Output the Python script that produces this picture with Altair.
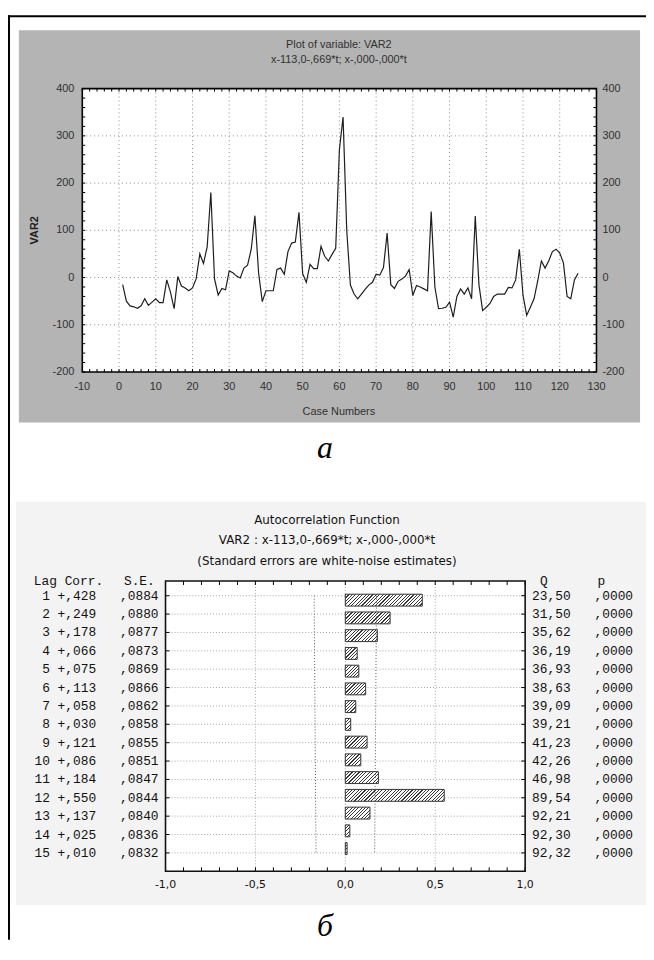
import altair as alt
import pandas as pd

# ---------------- data ----------------
case_numbers = list(range(1, 126))
var2 = [
    -15, -50, -60, -62, -65, -60, -45, -59, -52, -45,
    -53, -53, -5, -31, -66, 2, -18, -22, -28, -22,
    -3, 50, 30, 65, 180, -3, -37, -23, -26, 14,
    10, 3, -1, 20, 26, 60, 131, 10, -51, -28,
    -28, -28, 17, 20, 7, 55, 73, 75, 138, 8,
    -10, 28, 19, 19, 66, 45, 35, 49, 62, 270,
    340, 100, -16, -35, -45, -35, -25, -16, -10, 7,
    5, 21, 94, -15, -23, -8, -3, 3, 17, -38,
    -17, -20, -24, -28, 140, -20, -66, -65, -63, -52,
    -84, -40, -24, -35, -22, -45, 130, -15, -70, -63,
    -55, -40, -35, -35, -35, -21, -22, -5, 60, -38,
    -80, -63, -45, -7, 35, 20, 35, 55, 60, 52,
    31, -40, -45, -5, 9]

top_x_ticks = [-10, 0, 10, 20, 30, 40, 50, 60, 70, 80, 90, 100, 110, 120, 130]
top_y_ticks = [-200, -100, 0, 100, 200, 300, 400]
top_x_minor = list(range(-10, 131, 2))
top_y_minor = list(range(-200, 401, 20))

lags = list(range(1, 16))
corr = [0.428, 0.249, 0.178, 0.066, 0.075, 0.113, 0.058, 0.030, 0.121, 0.086,
        0.184, 0.550, 0.137, 0.025, 0.010]
std_err = [0.0884, 0.0880, 0.0877, 0.0873, 0.0869, 0.0866, 0.0862, 0.0858, 0.0855,
           0.0851, 0.0847, 0.0844, 0.0840, 0.0836, 0.0832]
q_stat = [23.50, 31.50, 35.62, 36.19, 36.93, 38.63, 39.09, 39.21, 41.23, 42.26,
          46.98, 89.54, 92.21, 92.30, 92.32]
p_val = [0.0] * 15
acf_ticks = [-1.0, -0.5, 0.0, 0.5, 1.0]
acf_labels = ["-1,0", "-0,5", "0,0", "0,5", "1,0"]
acf_minor = [round(-1 + 0.1 * i, 1) for i in range(21)]

# ---------------- layout (pixels inside the chart) ----------------
W, H = 644, 936
TOP_XR, TOP_YR = [75, 594], [363, 77]
ACF_XR, ACF_YR = [159, 522], [574, 867]

sx_top = alt.Scale(domain=[-10, 130], range=TOP_XR, nice=False, zero=False)
sy_top = alt.Scale(domain=[-200, 400], range=TOP_YR, nice=False, zero=False)
sx_acf = alt.Scale(domain=[-1, 1], range=ACF_XR, nice=False, zero=False)
sy_acf = alt.Scale(domain=[0.2, 16], range=ACF_YR, nice=False, zero=False)

SANS = "Liberation Sans"
SANS2 = "DejaVu Sans"
MONO = "Liberation Mono"
SERIF = "Liberation Serif"


def one():
    return pd.DataFrame({"k": [0]})


def text_at(txt, x, y, **kw):
    return alt.Chart(one()).mark_text(text=txt, **kw).encode(x=alt.value(x), y=alt.value(y))


def vrules(vals, sx, y0, y1, **kw):
    return alt.Chart(pd.DataFrame({"v": vals})).mark_rule(**kw).encode(
        x=alt.X("v:Q", scale=sx, axis=None), y=alt.value(y0), y2=alt.value(y1))


def hrules(vals, sy, x0, x1, **kw):
    return alt.Chart(pd.DataFrame({"v": vals})).mark_rule(**kw).encode(
        y=alt.Y("v:Q", scale=sy, axis=None), x=alt.value(x0), x2=alt.value(x1))


def frame(sx, sy, xd, yd, **kw):
    df = pd.DataFrame({"x0": [xd[0]], "x1": [xd[1]], "y0": [yd[0]], "y1": [yd[1]]})
    return alt.Chart(df).mark_rect(**kw).encode(
        x=alt.X("x0:Q", scale=sx, axis=None), x2="x1:Q",
        y=alt.Y("y0:Q", scale=sy, axis=None), y2="y1:Q")


layers = []

# panels and outer frame
layers.append(alt.Chart(one()).mark_rect(fill="#b4b4b4").encode(
    x=alt.value(11), x2=alt.value(638), y=alt.value(18), y2=alt.value(414)))
layers.append(alt.Chart(one()).mark_rect(fill="#f3f3f3").encode(
    x=alt.value(8), x2=alt.value(W), y=alt.value(494), y2=alt.value(901)))
layers.append(alt.Chart(one()).mark_rule(color="black", strokeWidth=2).encode(
    x=alt.value(1), y=alt.value(3), y2=alt.value(H)))
layers.append(alt.Chart(one()).mark_rule(color="black", strokeWidth=2).encode(
    x=alt.value(0), x2=alt.value(W), y=alt.value(4)))

# ---------------- top chart ----------------
layers.append(frame(sx_top, sy_top, [-10, 130], [-200, 400], fill="white"))
layers.append(vrules(top_x_ticks[1:-1], sx_top, TOP_YR[1], TOP_YR[0],
                     color="#8c8c8c", strokeDash=[1, 3], strokeWidth=1))
layers.append(hrules(top_y_ticks[1:-1], sy_top, TOP_XR[0], TOP_XR[1],
                     color="#8c8c8c", strokeDash=[1, 3], strokeWidth=1))
layers.append(vrules(top_x_minor, sx_top, TOP_YR[1], TOP_YR[1] + 3, color="black", strokeWidth=1))
layers.append(vrules(top_x_minor, sx_top, TOP_YR[0] - 3, TOP_YR[0], color="black", strokeWidth=1))
layers.append(hrules(top_y_minor, sy_top, TOP_XR[0], TOP_XR[0] + 3, color="black", strokeWidth=1))
layers.append(hrules(top_y_minor, sy_top, TOP_XR[1] - 3, TOP_XR[1], color="black", strokeWidth=1))

df_top = pd.DataFrame({"case": case_numbers, "var2": var2})
layers.append(alt.Chart(df_top).mark_line(color="#1e1e1e", strokeWidth=1.2).encode(
    x=alt.X("case:Q", scale=sx_top, axis=None),
    y=alt.Y("var2:Q", scale=sy_top, axis=None)))
layers.append(frame(sx_top, sy_top, [-10, 130], [-200, 400],
                    fill=None, filled=False, stroke="black", strokeWidth=1.6))

df_yt = pd.DataFrame({"v": top_y_ticks, "lab": [str(v) for v in top_y_ticks]})
for xpos, al in [(67, "right"), (600, "left")]:
    layers.append(alt.Chart(df_yt).mark_text(
        align=al, baseline="middle", font=SANS, fontSize=11, color="#303030").encode(
        x=alt.value(xpos), y=alt.Y("v:Q", scale=sy_top, axis=None), text="lab:N"))
df_xt = pd.DataFrame({"v": top_x_ticks, "lab": [str(v) for v in top_x_ticks]})
layers.append(alt.Chart(df_xt).mark_text(
    align="center", baseline="middle", font=SANS, fontSize=11, color="#303030").encode(
    x=alt.X("v:Q", scale=sx_top, axis=None), y=alt.value(378), text="lab:N"))

layers.append(text_at("Plot of variable: VAR2", 334, 33, font=SANS, fontSize=11,
                      color="#303030", align="center", baseline="middle"))
layers.append(text_at("x-113,0-,669*t; x-,000-,000*t", 334, 48, font=SANS, fontSize=11,
                      color="#303030", align="center", baseline="middle"))
layers.append(text_at("Case Numbers", 334, 403, font=SANS, fontSize=11,
                      color="#303030", align="center", baseline="middle"))
layers.append(text_at("VAR2", 27, 220, font=SANS, fontSize=11, fontWeight="bold",
                      color="#202020", align="center", baseline="middle", angle=270))
layers.append(text_at("a", 320, 450, font=SERIF, fontSize=32, fontStyle="italic",
                      color="black", align="center", baseline="alphabetic"))

# ---------------- autocorrelation chart ----------------
layers.append(frame(sx_acf, sy_acf, [-1, 1], [0.2, 16], fill="white"))
layers.append(vrules([-0.5, 0.0, 0.5], sx_acf, ACF_YR[0], ACF_YR[1],
                     color="#a8a8a8", strokeDash=[1, 2], strokeWidth=1))
layers.append(hrules(lags, sy_acf, ACF_XR[0], ACF_XR[1],
                     color="#a8a8a8", strokeDash=[1, 2], strokeWidth=1))
layers.append(vrules(acf_minor, sx_acf, ACF_YR[0], ACF_YR[0] + 4, color="black", strokeWidth=1))
layers.append(vrules(acf_minor, sx_acf, ACF_YR[1] - 4, ACF_YR[1], color="black", strokeWidth=1))
layers.append(hrules(lags, sy_acf, ACF_XR[0], ACF_XR[0] + 4, color="black", strokeWidth=1))
layers.append(hrules(lags, sy_acf, ACF_XR[1] - 4, ACF_XR[1], color="black", strokeWidth=1))

df_acf = pd.DataFrame({"lag": lags, "corr": corr, "se": std_err, "zero": [0.0] * 15})

PX_PER_UNIT = (ACF_XR[1] - ACF_XR[0]) / 2.0
BAR_H = 12


def hatch(w_px, h_px, period=3.4, dark_frac=0.34):
    w_px = max(w_px, 0.5)
    L = w_px + h_px
    r = h_px / w_px
    s = L / (w_px * (1 + r * r))
    n = max(1, int(round(L / period)))
    stops = []
    for k in range(n):
        a, b, c = k / n, (k + dark_frac) / n, (k + 1) / n
        stops += [{"offset": a, "color": "#3a3a3a"}, {"offset": b, "color": "#3a3a3a"},
                  {"offset": b, "color": "#ffffff"}, {"offset": c, "color": "#ffffff"}]
    return {"gradient": "linear", "x1": 0, "y1": 0, "x2": s, "y2": s * r, "stops": stops}


for lag, c in zip(lags, corr):
    layers.append(alt.Chart(df_acf).transform_filter(f"datum.lag == {lag}").mark_bar(
        orient="horizontal", height=BAR_H, fill=hatch(c * PX_PER_UNIT, BAR_H),
        stroke="#333333", strokeWidth=1).encode(
        x=alt.X("corr:Q", scale=sx_acf, axis=None), x2="zero:Q",
        y=alt.Y("lag:Q", scale=sy_acf, axis=None)))

for sign in (1, -1):
    layers.append(alt.Chart(df_acf).transform_calculate(
        lim=f"{sign} * 1.96 * datum.se").mark_line(
        color="#555555", strokeDash=[1, 2], strokeWidth=1).encode(
        x=alt.X("lim:Q", scale=sx_acf, axis=None),
        y=alt.Y("lag:Q", scale=sy_acf, axis=None), order="lag:Q"))

layers.append(frame(sx_acf, sy_acf, [-1, 1], [0.2, 16],
                    fill=None, filled=False, stroke="#111111", strokeWidth=1.6))


def dec(v, nd):
    return f"{v:.{nd}f}".lstrip("0").replace(".", ",")


df_cols = pd.DataFrame({
    "lag": lags,
    "left": [f"{l:>2} +{dec(c, 3)}" for l, c in zip(lags, corr)],
    "se_t": [dec(s, 4) for s in std_err],
    "q_t": [f"{q:.2f}".replace(".", ",") for q in q_stat],
    "p_t": [dec(p, 4) for p in p_val],
})
for field, xpos, al in [("left", 89, "right"), ("se_t", 152, "right"),
                        ("q_t", 529, "left"), ("p_t", 592, "left")]:
    layers.append(alt.Chart(df_cols).mark_text(
        align=al, baseline="middle", font=MONO, fontSize=13, color="#111111").encode(
        x=alt.value(xpos), y=alt.Y("lag:Q", scale=sy_acf, axis=None), text=f"{field}:N"))

for txt, xpos in [("Lag Corr.", 26), ("S.E.", 117), ("Q", 537), ("p", 595)]:
    layers.append(text_at(txt, xpos, 574, font=MONO, fontSize=13, color="#111111",
                          align="left", baseline="middle"))

df_at = pd.DataFrame({"v": acf_ticks, "lab": acf_labels})
layers.append(alt.Chart(df_at).mark_text(
    align="center", baseline="middle", font=SANS2, fontSize=11, color="#111111").encode(
    x=alt.X("v:Q", scale=sx_acf, axis=None), y=alt.value(881), text="lab:N"))

layers.append(text_at("Autocorrelation Function", 322, 512, font=SANS2, fontSize=12,
                      color="#111111", align="center", baseline="middle"))
layers.append(text_at("VAR2 : x-113,0-,669*t; x-,000-,000*t", 322, 533, font=SANS2, fontSize=12,
                      color="#111111", align="center", baseline="middle"))
layers.append(text_at("(Standard errors are white-noise estimates)", 322, 554, font=SANS2,
                      fontSize=12, color="#111111", align="center", baseline="middle"))
layers.append(text_at("б", 320, 932, font=SERIF, fontSize=32, fontStyle="italic",
                      color="black", align="center", baseline="alphabetic"))

chart = alt.layer(*layers).resolve_scale(x="independent", y="independent").properties(
    width=W, height=H, padding=0, background="white",
    autosize=alt.AutoSizeParams(type="none"),
).configure_view(stroke=None)

chart.save("out.html", embed_options={"renderer": "svg", "actions": False})
